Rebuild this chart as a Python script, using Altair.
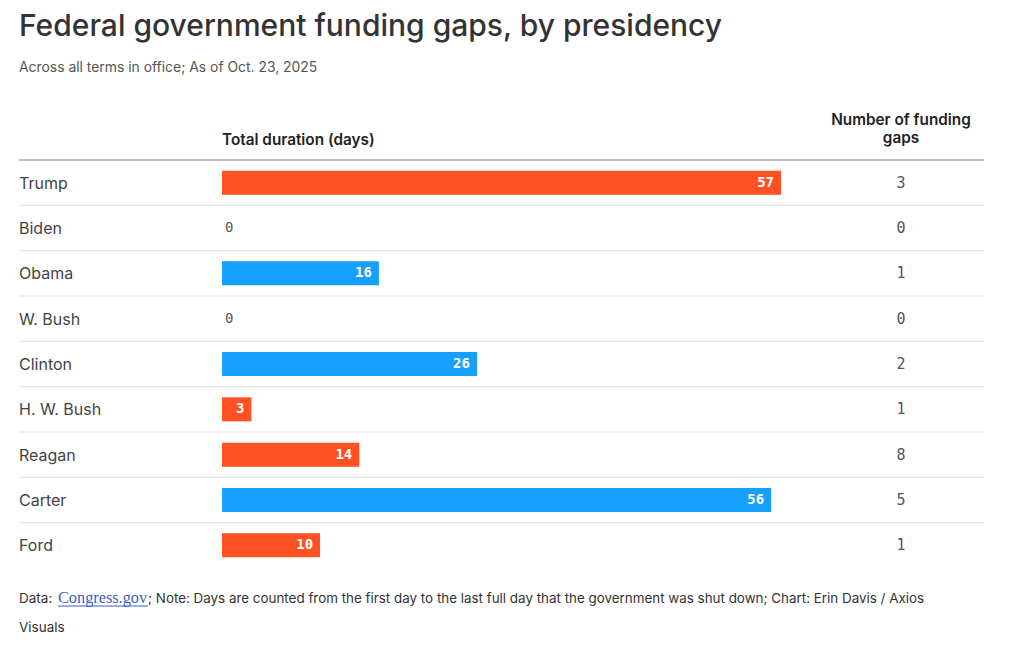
import altair as alt
import pandas as pd

presidents = ["Trump", "Biden", "Obama", "W. Bush", "Clinton", "H. W. Bush", "Reagan", "Carter", "Ford"]
days = [57, 0, 16, 0, 26, 3, 14, 56, 10]
gaps = [3, 0, 1, 0, 2, 1, 8, 5, 1]
party = ["R", "D", "D", "R", "D", "R", "R", "D", "R"]

df = pd.DataFrame({"president": presidents, "days": days, "gaps": gaps, "party": party})

SANS = "Inter"
MONO = "DejaVu Sans Mono"
ORANGE = "#ff5122"
BLUE = "#169fff"

ysc = alt.Scale(domain=presidents, paddingInner=0.47, paddingOuter=0.235)
Y = alt.Y("president:N", scale=ysc, axis=None, sort=presidents)
xsc = alt.Scale(domain=[0, 57], zero=True, nice=False)

base = alt.Chart(df)

sep = alt.Chart(df.iloc[1:]).mark_rule(color="#e6e6e6", strokeWidth=1.2, yOffset=-22.67).encode(
    y=Y, x=alt.value(-203), x2=alt.value(762)
)
header_line = alt.Chart(df.iloc[:1]).mark_rule(color="#bdbdbd", strokeWidth=2.2, yOffset=-22.67).encode(
    y=Y, x=alt.value(-203), x2=alt.value(762)
)

bars = base.transform_filter("datum.days > 0").mark_bar().encode(
    y=Y,
    x=alt.X("days:Q", scale=xsc, axis=None),
    color=alt.Color("party:N", scale=alt.Scale(domain=["R", "D"], range=[ORANGE, BLUE]), legend=None),
)

bar_labels = base.transform_filter("datum.days > 0").mark_text(
    align="right", baseline="middle", dx=-7, font=MONO, fontSize=14, fontWeight="bold", color="white"
).encode(y=Y, x=alt.X("days:Q", scale=xsc), text="days:Q")

zero_labels = base.transform_filter("datum.days == 0").mark_text(
    align="left", baseline="middle", dx=3, font=MONO, fontSize=14, color="#555"
).encode(y=Y, x=alt.X("days:Q", scale=xsc), text="days:Q")

row_labels = base.mark_text(
    align="left", baseline="middle", dy=1, font=SANS, fontSize=16, color="#444"
).encode(y=Y, x=alt.value(-203), text="president:N")

gap_labels = base.mark_text(
    align="center", baseline="middle", font=MONO, fontSize=15, color="#555"
).encode(y=Y, x=alt.value(679), text="gaps:Q")

def label(text, x, y, size, color, weight="normal", align="left", font=SANS):
    return alt.Chart(pd.DataFrame({"t": [text]})).mark_text(
        align=align, baseline="alphabetic", font=font, fontSize=size, color=color, fontWeight=weight
    ).encode(x=alt.value(x), y=alt.value(y), text="t:N")

title = label("Federal government funding gaps, by presidency", -203, -124, 30, "#333", weight=500)
subtitle = label("Across all terms in office; As of Oct. 23, 2025", -203, -88, 13.9, "#555")
col1 = label("Total duration (days)", 0, -15, 15.3, "#222", weight=600)
col2a = label("Number of funding", 679, -35, 15.3, "#222", weight=600, align="center")
col2b = label("gaps", 679, -17, 15.3, "#222", weight=600, align="center")

foot1 = label("Data:", -203, 443, 13.5, "#333")
foot_link = label("Congress.gov", -164, 443, 16.3, "#3b5fc4", font="Liberation Serif")
foot_underline = alt.Chart(pd.DataFrame({"a": [0]})).mark_rule(color="#3b5fc4", strokeWidth=1).encode(
    x=alt.value(-164), x2=alt.value(-74), y=alt.value(446)
)
foot2 = label("; Note: Days are counted from the first day to the last full day that the government was shut down; Chart: Erin Davis / Axios",
              -74, 443, 13.4, "#333")
foot3 = label("Visuals", -203, 472, 13.5, "#333")

chart = alt.layer(
    header_line, sep, bars, bar_labels, zero_labels, row_labels, gap_labels,
    title, subtitle, col1, col2a, col2b, foot1, foot_link, foot_underline, foot2, foot3
).properties(
    width=559, height=408,
    padding={"left": 214, "top": 152, "right": 235, "bottom": 70},
    autosize=alt.AutoSizeParams(type="none"),
    background="white",
).configure_view(stroke=None)

chart.save("out.html", embed_options={"renderer": "svg", "actions": False})
